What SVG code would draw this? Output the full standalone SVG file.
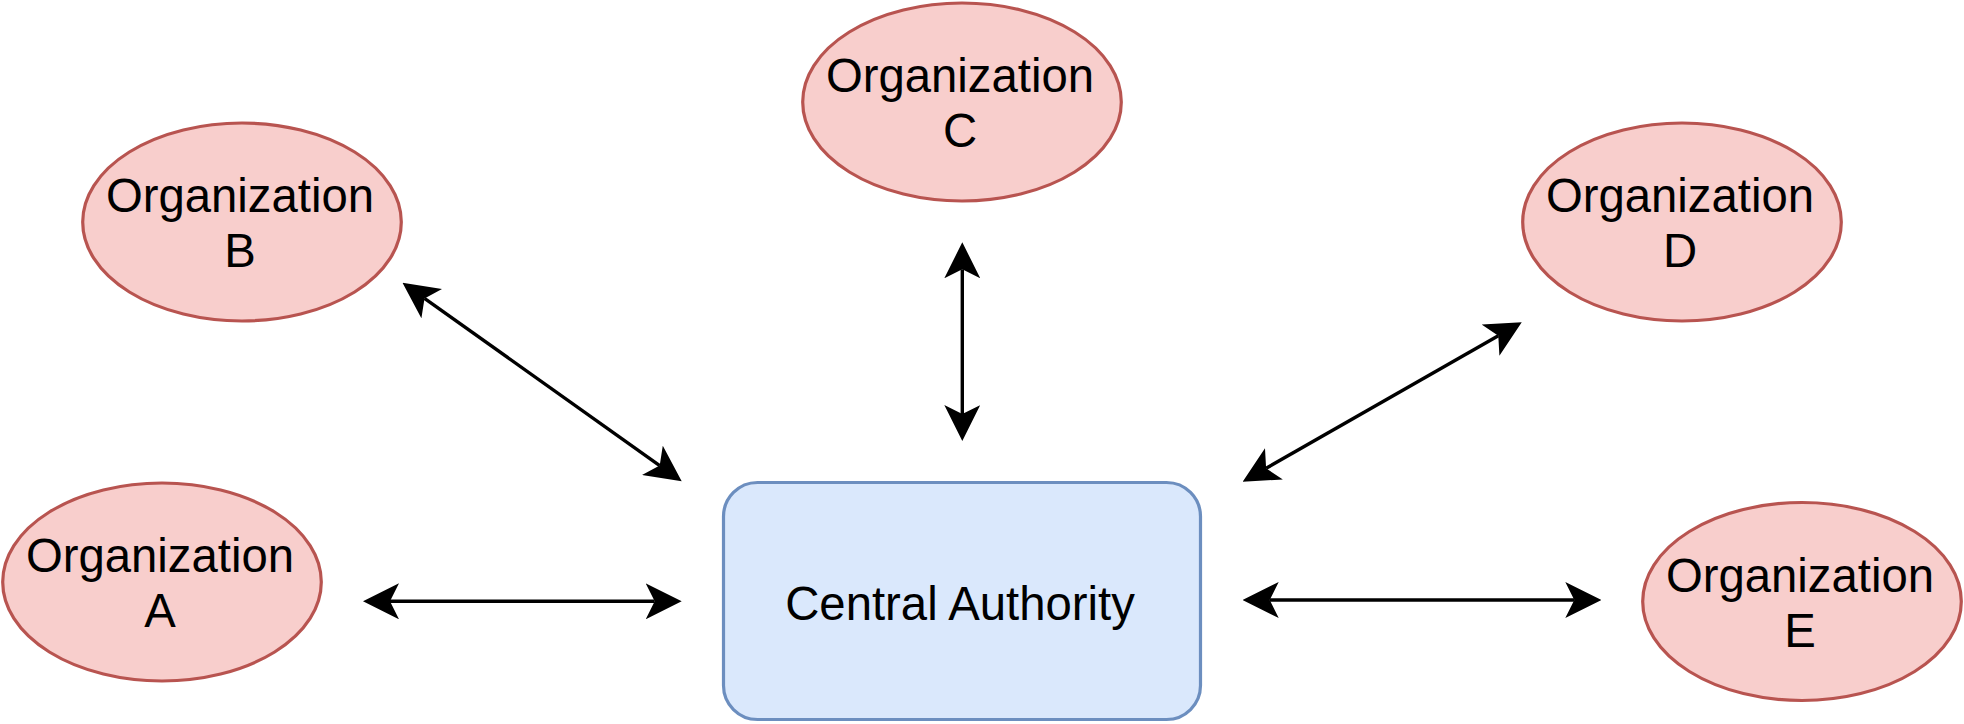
<svg xmlns="http://www.w3.org/2000/svg" width="1964" height="724" viewBox="0 0 1964 724">
<style>
.org ellipse{fill:#f8cecc;stroke:#b85450;stroke-width:3.2}
.ca rect{fill:#dae8fc;stroke:#6c8ebf;stroke-width:3.2}
text{font-family:"Liberation Sans",Arial,sans-serif;font-size:47.3px;fill:#000;text-anchor:middle}
.conn line{stroke:#000;stroke-width:3.4;fill:none;marker-start:url(#arr);marker-end:url(#arr)}
</style>
<defs>
<marker id="arr" viewBox="0 0 36 36" markerWidth="36" markerHeight="36" refX="9" refY="18" orient="auto-start-reverse" markerUnits="userSpaceOnUse">
<path d="M0,0 L36,18 L0,36 L9,18 Z" fill="#000"/>
</marker>
</defs>
<rect width="1964" height="724" fill="#fff"/>
<g id="orgA" class="org"><ellipse cx="162" cy="582" rx="159.3" ry="99"/><text x="160" y="571.5">Organization</text><text x="160" y="626.5">A</text></g>
<g id="orgB" class="org"><ellipse cx="242" cy="222" rx="159.3" ry="99"/><text x="240" y="212">Organization</text><text x="240" y="267">B</text></g>
<g id="orgC" class="org"><ellipse cx="962" cy="102" rx="159.3" ry="99"/><text x="960" y="92">Organization</text><text x="960" y="147">C</text></g>
<g id="orgD" class="org"><ellipse cx="1682" cy="222" rx="159.3" ry="99"/><text x="1680" y="212">Organization</text><text x="1680" y="267">D</text></g>
<g id="orgE" class="org"><ellipse cx="1802" cy="601.5" rx="159.3" ry="99"/><text x="1800" y="591.5">Organization</text><text x="1800" y="646.5">E</text></g>
<g id="central" class="ca"><rect x="723.5" y="482.5" width="477" height="237" rx="34" ry="34"/><text x="960" y="619.5">Central Authority</text></g>
<g id="connectors" class="conn">
<line x1="390" y1="601.3" x2="654.7" y2="601.3"/>
<line x1="424.5" y1="298.4" x2="659.7" y2="465.6"/>
<line x1="962.3" y1="269.3" x2="962.3" y2="414"/>
<line x1="1266.1" y1="468.3" x2="1498.3" y2="335.7"/>
<line x1="1269.7" y1="600" x2="1574.3" y2="600"/>
</g>
</svg>
